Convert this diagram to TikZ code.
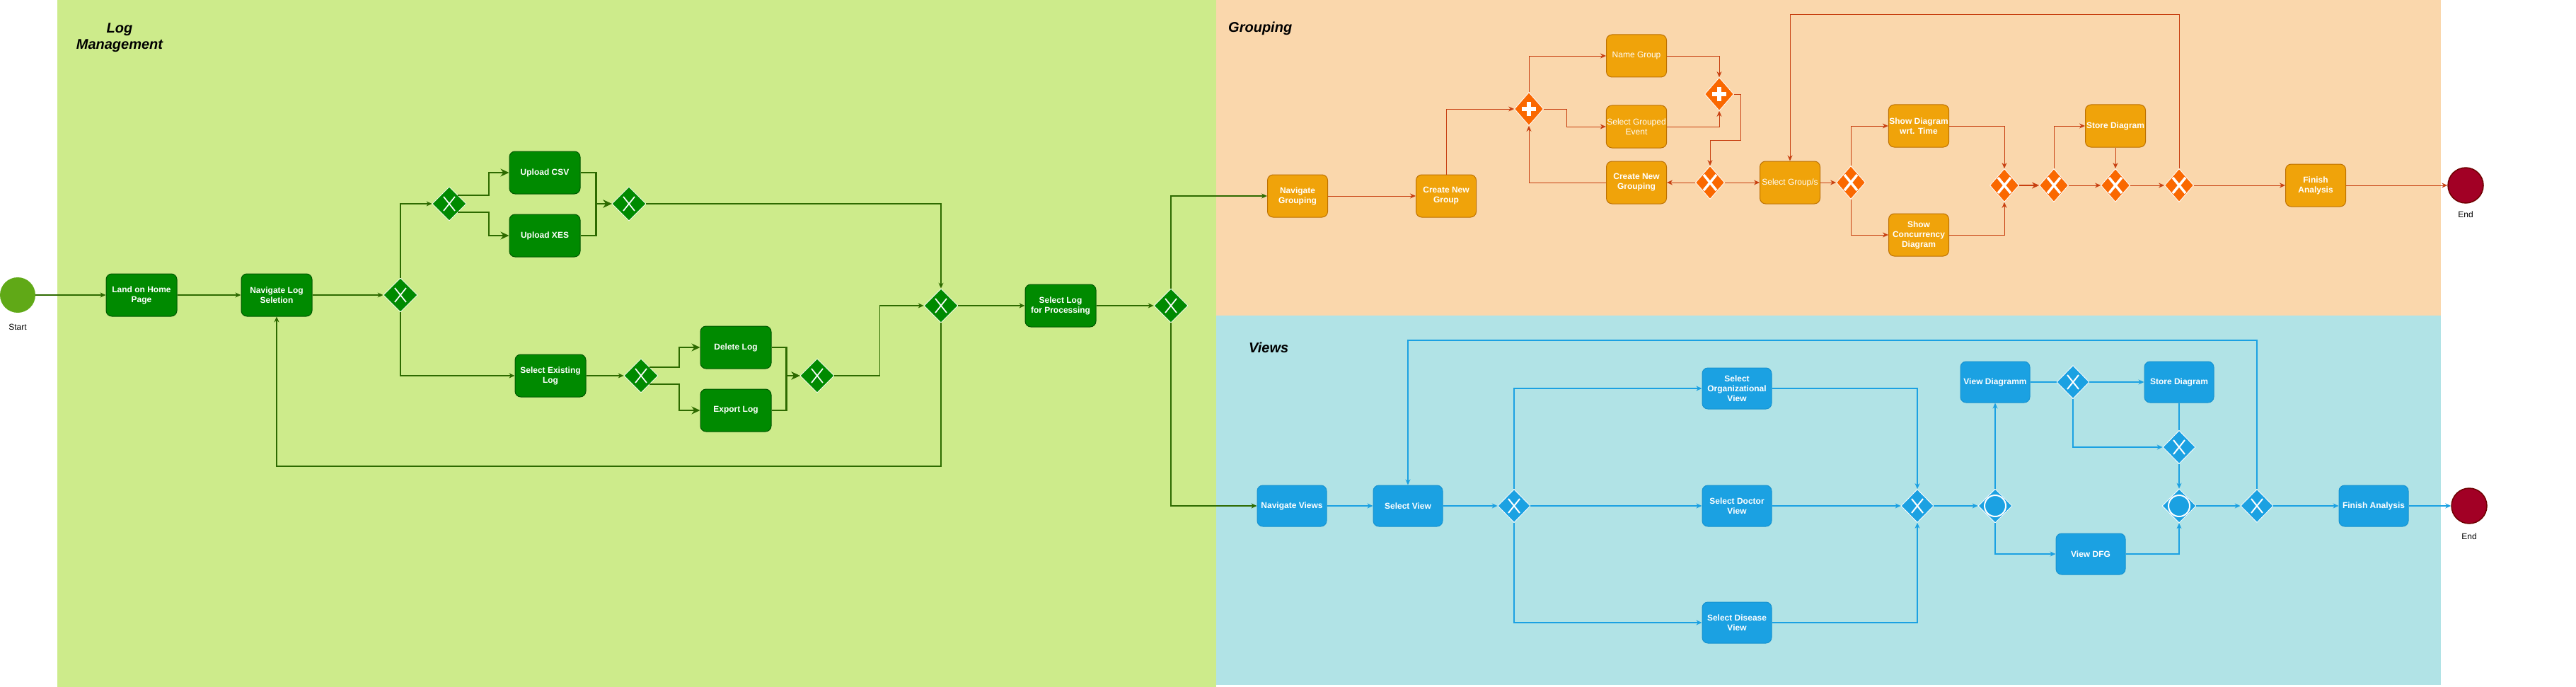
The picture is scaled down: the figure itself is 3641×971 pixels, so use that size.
\documentclass[tikz,border=0pt]{standalone}
\usepackage{fontspec}
\setmainfont{Liberation Sans}
\usetikzlibrary{shapes.geometric,arrows.meta}

\definecolor{gbg}{HTML}{CDEB8B}
\definecolor{obg}{HTML}{FAD7AC}
\definecolor{bbg}{HTML}{B1E3E6}
\definecolor{gfill}{HTML}{008A00}
\definecolor{gline}{HTML}{005700}
\definecolor{gedge}{HTML}{2D6A00}
\definecolor{startc}{HTML}{60A917}
\definecolor{ofill}{HTML}{F0A30A}
\definecolor{oline}{HTML}{BD7000}
\definecolor{ogate}{HTML}{FA6800}
\definecolor{oedge}{HTML}{C73F10}
\definecolor{bfill}{HTML}{1BA1E2}
\definecolor{bline}{HTML}{1592D0}
\definecolor{endc}{HTML}{A20025}
\definecolor{endline}{HTML}{6F0000}

\begin{document}
\begin{tikzpicture}[x=1pt,y=-1pt,every node/.style={inner sep=1pt},
    lanetitle/.style={font=\bfseries\itshape\fontsize{20}{23}\selectfont},
    evlabel/.style={font=\fontsize{12}{14}\selectfont},
    task/.style={rectangle,rounded corners=8pt,minimum width=100pt,minimum height=60pt,
      align=center,text=white,line width=1pt,font=\bfseries\fontsize{12}{14}\selectfont},
    plain/.style={font=\fontsize{12}{14}\selectfont},
    gtask/.style={task,fill=gfill,draw=gline},
    otask/.style={task,minimum width=85pt,fill=ofill,draw=oline},
    btask/.style={task,minimum width=98pt,minimum height=58pt,fill=bfill,draw=bline},
    gate/.style={diamond,draw=white,line width=0.8pt,inner sep=0pt,minimum width=48pt,minimum height=48pt},
    xmark/.style n args={3}{path picture={\draw[white,line width=#3]
      ([shift={(-#1,-#2)}]path picture bounding box.center) -- ([shift={(#1,#2)}]path picture bounding box.center)
      ([shift={(-#1,#2)}]path picture bounding box.center) -- ([shift={(#1,-#2)}]path picture bounding box.center);}},
    pmark/.style={path picture={\draw[white,line width=5.5pt]
      ([shift={(-10pt,0pt)}]path picture bounding box.center) -- ([shift={(10pt,0pt)}]path picture bounding box.center)
      ([shift={(0pt,-10pt)}]path picture bounding box.center) -- ([shift={(0pt,10pt)}]path picture bounding box.center);}},
    omark/.style={path picture={\draw[white,line width=2pt] (path picture bounding box.center) circle[radius=15pt];}},
    gx/.style={gate,fill=gfill,xmark={8pt}{10pt}{1.7pt}},
    ox/.style={gate,minimum width=41pt,minimum height=47pt,fill=ogate,xmark={9pt}{11pt}{3.5pt}},
    op/.style={gate,minimum width=41pt,minimum height=47pt,fill=ogate,pmark},
    bx/.style={gate,minimum width=46pt,minimum height=47pt,fill=bfill,xmark={8pt}{10pt}{2pt}},
    bo/.style={gate,fill=bfill,omark},
    startev/.style={circle,minimum size=50pt,fill=startc},
    endev/.style={circle,minimum size=50pt,fill=endc,draw=endline,line width=1.5pt},
    garrow/.style={draw=gedge,line width=1.1pt,-{Stealth[length=8pt,width=7pt]}},
    gthick/.style={draw=gedge,line width=2.4pt,-{Stealth[length=12pt,width=11pt]}},
    oarrow/.style={draw=oedge,line width=0.9pt,-{Stealth[length=8pt,width=7pt]}},
    othick/.style={draw=oedge,line width=2.2pt,-{Stealth[length=10pt,width=9pt]}},
    barrow/.style={draw=bfill,line width=1.1pt,-{Stealth[length=8pt,width=7pt]}},
    bplain/.style={draw=bfill,line width=1.1pt}]
  \useasboundingbox (0,0) rectangle (3641,971);

  % lanes
  \fill[gbg] (81,0) rectangle (1719,971);
  \fill[obg] (1719,0) rectangle (3450,446);
  \fill[bbg] (1719,446) rectangle (3450,968);
  \node[lanetitle,align=center] (TLog) at (169,53) {Log\\Management};
  \node[lanetitle,anchor=west] (TGrp) at (1735,40) {Grouping};
  \node[lanetitle,anchor=west] (TView) at (1764,491) {Views};

  % log management
  \node[startev] (S) at (25,417) {};
  \node[evlabel] (SL) at (25,462) {Start};
  \node[gtask] (Land) at (200,417) {Land on Home\\Page};
  \node[gtask] (NavLog) at (391,417) {Navigate Log\\Seletion};
  \node[gx] (G1) at (566,417) {};
  \node[gx] (G2) at (635,288) {};
  \node[gtask] (CSV) at (770,244) {Upload CSV};
  \node[gtask] (XES) at (770,333) {Upload XES};
  \node[gx] (G3) at (889,288) {};
  \node[gtask] (Exist) at (778,531) {Select Existing\\Log};
  \node[gx] (G4) at (906,531) {};
  \node[gtask] (Del) at (1040,491) {Delete Log};
  \node[gtask] (Exp) at (1040,580) {Export Log};
  \node[gx] (G5) at (1155,531) {};
  \node[gx] (G6) at (1330,432) {};
  \node[gtask] (SelProc) at (1499,432) {Select Log\\for Processing};
  \node[gx] (G7) at (1655,432) {};

  \foreach \a/\b in {S/Land,Land/NavLog,NavLog/G1,Exist/G4,G6/SelProc,SelProc/G7}
    {\draw[garrow] (\a) -- (\b);}
  \draw[garrow] (G1.north) |- (G2.west);
  \draw[garrow] (G1.south) |- (Exist.west);
  \draw[gthick] (G2.north east) -- ++(44,0) |- (CSV.west);
  \draw[gthick] (G2.south east) -- ++(44,0) |- (XES.west);
  \draw[gthick] (CSV.east) -- ++(22,0) |- (G3.west);
  \draw[gthick] (XES.east) -- ++(22,0) |- (G3.west);
  \draw[gthick] (G4.north east) -- ++(42,0) |- (Del.west);
  \draw[gthick] (G4.south east) -- ++(42,0) |- (Exp.west);
  \draw[gthick] (Del.east) -- ++(21,0) |- (G5.west);
  \draw[gthick] (Exp.east) -- ++(21,0) |- (G5.west);
  \draw[garrow] (G5.east) -- ++(64,0) |- (G6.west);
  \draw[garrow] (G3.east) -| (G6.north);
  \coordinate (Back) at (391,659);
  \draw[garrow] (G6.south) |- (Back) -- (NavLog.south);

  % grouping
  \node[otask] (NavGrp) at (1834,277) {Navigate\\Grouping};
  \node[otask] (NewGrp) at (2044,277) {Create New\\Group};
  \node[op] (P1) at (2161,154) {};
  \node[otask,plain] (NameGrp) at (2313,79) {Name Group};
  \node[otask,plain] (SelEvt) at (2313,179) {Select Grouped\\Event};
  \node[otask] (NewGrping) at (2313,258) {Create New\\Grouping};
  \node[op] (P2) at (2430,133) {};
  \node[ox] (OX1) at (2417,258) {};
  \node[otask,plain] (SelGrps) at (2530,258) {Select Group/s};
  \node[ox] (OX2) at (2616,258) {};
  \node[otask] (ShowT) at (2712,178) {Show Diagram\\wrt. Time};
  \node[otask] (ShowC) at (2712,332) {Show\\Concurrency\\Diagram};
  \node[ox] (OX3) at (2833,262) {};
  \node[ox] (OX4) at (2903,262) {};
  \node[otask] (OStore) at (2990,178) {Store Diagram};
  \node[ox] (OX5) at (2990,262) {};
  \node[ox] (OX6) at (3080,262) {};
  \node[otask] (OFin) at (3273,262) {Finish\\Analysis};
  \node[endev] (E1) at (3485,262) {};
  \node[evlabel] (E1L) at (3485,303) {End};

  \draw[garrow] (G7.north) |- (NavGrp.west);
  \foreach \a/\b in {NavGrp/NewGrp,OX1/NewGrping,OX1/SelGrps,SelGrps/OX2,OX4/OX5,OStore/OX5,OX5/OX6,OX6/OFin,OFin/E1}
    {\draw[oarrow] (\a) -- (\b);}
  \draw[othick] (OX3) -- (OX4);
  \draw[oarrow] (NewGrp.north) |- (P1.west);
  \draw[oarrow] (P1.north) |- (NameGrp.west);
  \draw[oarrow] (P1.east) -- ++(33,0) |- (SelEvt.west);
  \draw[oarrow] (NameGrp.east) -| (P2.north);
  \draw[oarrow] (SelEvt.east) -| (P2.south);
  \coordinate (PJ) at (2460,198);
  \draw[oarrow] (P2.east) -| (PJ) -| (OX1.north);
  \draw[oarrow] (NewGrping.west) -| (P1.south);
  \draw[oarrow] (OX2.north) |- (ShowT.west);
  \draw[oarrow] (OX2.south) |- (ShowC.west);
  \draw[oarrow] (ShowT.east) -| (OX3.north);
  \draw[oarrow] (ShowC.east) -| (OX3.south);
  \draw[oarrow] (OX4.north) |- (OStore.west);
  \coordinate (GTop) at (2530,20);
  \draw[oarrow] (OX6.north) |- (GTop) -- (SelGrps.north);

  % views
  \node[btask] (NavView) at (1826,715) {Navigate Views};
  \node[btask] (SelView) at (1990,715) {Select View};
  \node[bx] (BX1) at (2140,715) {};
  \node[btask] (OrgView) at (2455,549) {Select\\Organizational\\View};
  \node[btask] (DocView) at (2455,715) {Select Doctor\\View};
  \node[btask] (DisView) at (2455,880) {Select Disease\\View};
  \node[bx] (BX2) at (2710,715) {};
  \node[bo] (OR1) at (2820,715) {};
  \node[btask] (ViewDiag) at (2820,540) {View Diagramm};
  \node[bx] (BX3) at (2930,540) {};
  \node[btask] (BStore) at (3080,540) {Store Diagram};
  \node[bx] (BX4) at (3080,632) {};
  \node[bo] (OR2) at (3080,715) {};
  \node[btask] (ViewDFG) at (2955,783) {View DFG};
  \node[bx] (BX5) at (3190,715) {};
  \node[btask] (BFin) at (3355,715) {Finish Analysis};
  \node[endev] (E2) at (3490,715) {};
  \node[evlabel] (E2L) at (3490,758) {End};

  \draw[garrow] (G7.south) |- (NavView.west);
  \foreach \a/\b in {NavView/SelView,SelView/BX1,BX1/DocView,DocView/BX2,BX2/OR1,OR1/ViewDiag,BX3/BStore,BX4/OR2,OR2/BX5,BX5/BFin,BFin/E2}
    {\draw[barrow] (\a) -- (\b);}
  \draw[bplain] (ViewDiag) -- (BX3);
  \draw[bplain] (BStore) -- (BX4);
  \draw[barrow] (BX1.north) |- (OrgView.west);
  \draw[barrow] (BX1.south) |- (DisView.west);
  \draw[barrow] (OrgView.east) -| (BX2.north);
  \draw[barrow] (DisView.east) -| (BX2.south);
  \draw[barrow] (OR1.south) |- (ViewDFG.west);
  \draw[barrow] (BX3.south) |- (BX4.west);
  \draw[barrow] (ViewDFG.east) -| (OR2.south);
  \coordinate (VTop) at (1990,481);
  \draw[barrow] (BX5.north) |- (VTop) -- (SelView.north);
\end{tikzpicture}
\end{document}
